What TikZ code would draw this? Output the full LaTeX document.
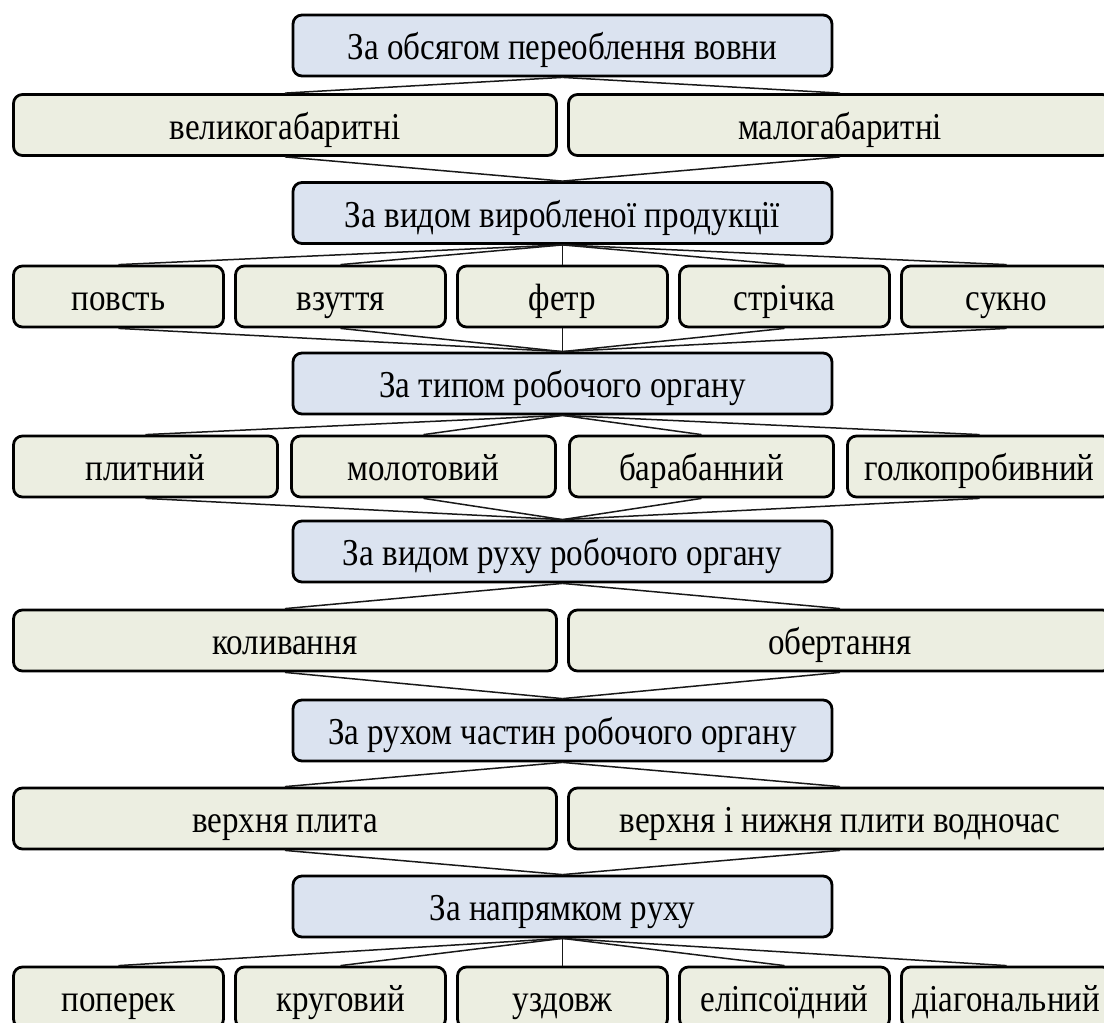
\documentclass[tikz,border=0pt]{standalone}
\usepackage{fontspec}
\setmainfont{Liberation Serif}[FakeStretch=0.87]
\definecolor{hdfill}{RGB}{219,227,240}
\definecolor{chfill}{RGB}{236,238,225}
\begin{document}
\begin{tikzpicture}[x=1pt,y=-1pt,
  box/.style={draw=black, line width=2.8pt, rounded corners=9pt, minimum height=61pt,
    inner sep=0pt, text height=36pt, text depth=8pt, font=\fontsize{38}{44}\selectfont},
  hd/.style={box, fill=hdfill, minimum width=539pt},
  ch/.style={box, fill=chfill},
  wtwo/.style={ch, minimum width=543pt},
  wfour/.style={ch, minimum width=264pt},
  wfive/.style={ch, minimum width=210pt},
  ln/.style={line width=1.5pt, draw=black!90}]
\useasboundingbox (0,0) rectangle (1104,1023);
% headings
\node[hd] (h1) at (562.5,45.5) {За обсягом переоблення вовни};
\node[hd] (h2) at (562.5,213) {За видом виробленої продукції};
\node[hd] (h3) at (562.5,383.5) {За типом робочого органу};
\node[hd] (h4) at (562.5,551.5) {За видом руху робочого органу};
\node[hd] (h5) at (562.5,730.5) {За рухом частин робочого органу};
\node[hd] (h6) at (562.5,906.5) {За напрямком руху};
% row 2
\node[wtwo] (r2a) at (285,125) {великогабаритні};
\node[wtwo] (r2b) at (840,125) {малогабаритні};
% row 4
\node[wfive] (r4a) at (118.5,296.5) {повсть};
\node[wfive] (r4b) at (340.5,296.5) {взуття};
\node[wfive] (r4c) at (562.5,296.5) {фетр};
\node[wfive] (r4d) at (784.5,296.5) {стрічка};
\node[wfive] (r4e) at (1006.5,296.5) {сукно};
% row 6
\node[wfour] (r6a) at (145.5,466.5) {плитний};
\node[wfour] (r6b) at (423.5,466.5) {молотовий};
\node[wfour] (r6c) at (701.5,466.5) {барабанний};
\node[wfour] (r6d) at (979.5,466.5) {голкопробивний};
% row 8
\node[wtwo] (r8a) at (285,640.5) {коливання};
\node[wtwo] (r8b) at (840,640.5) {обертання};
% row 10
\node[wtwo] (r10a) at (285,818.5) {верхня плита};
\node[wtwo] (r10b) at (840,818.5) {верхня і нижня плити водночас};
% row 12
\node[wfive] (r12a) at (118.5,997.5) {поперек};
\node[wfive] (r12b) at (340.5,997.5) {круговий};
\node[wfive] (r12c) at (562.5,997.5) {уздовж};
\node[wfive] (r12d) at (784.5,997.5) {еліпсоїдний};
\node[wfive] (r12e) at (1006.5,997.5) {діагональний};
% connectors
\foreach \c in {r2a,r2b} {\draw[ln] (h1.south) -- (\c.north); \draw[ln] (\c.south) -- (h2.north);}
\foreach \c in {r4a,r4b,r4c,r4d,r4e} {\draw[ln] (h2.south) -- (\c.north); \draw[ln] (\c.south) -- (h3.north);}
\foreach \c in {r6a,r6b,r6c,r6d} {\draw[ln] (h3.south) -- (\c.north); \draw[ln] (\c.south) -- (h4.north);}
\foreach \c in {r8a,r8b} {\draw[ln] (h4.south) -- (\c.north); \draw[ln] (\c.south) -- (h5.north);}
\foreach \c in {r10a,r10b} {\draw[ln] (h5.south) -- (\c.north); \draw[ln] (\c.south) -- (h6.north);}
\foreach \c in {r12a,r12b,r12c,r12d,r12e} {\draw[ln] (h6.south) -- (\c.north);}
\end{tikzpicture}
\end{document}
